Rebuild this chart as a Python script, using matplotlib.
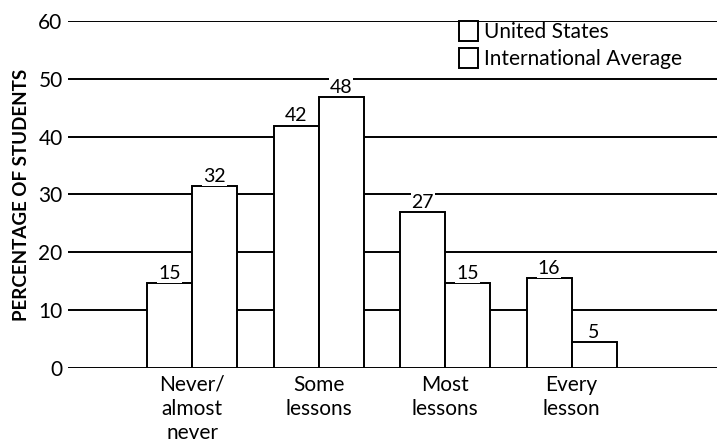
import matplotlib.pyplot as plt
import numpy as np

plt.rcParams['font.family'] = ['Lato', 'DejaVu Sans']

# categories and values
categories = ['Never/\nalmost\nnever', 'Some\nlessons', 'Most\nlessons', 'Every\nlesson']
us_heights = [14.6, 41.9, 27.0, 15.5]
intl_heights = [31.4, 46.9, 14.6, 4.5]
us_labels = ['15', '42', '27', '16']
intl_labels = ['32', '48', '15', '5']

fig = plt.figure(figsize=(7.17, 4.47), dpi=100)
ax = fig.add_axes([0.095, 0.177, 0.905, 0.776])

x = np.arange(len(categories))
w = 0.356

for y in range(0, 70, 10):
    ax.axhline(y, color='black', lw=1.4, zorder=0)

ax.bar(x - w / 2, us_heights, w, facecolor='white', edgecolor='black', lw=1.4,
       zorder=2, label='United States')
ax.bar(x + w / 2, intl_heights, w, facecolor='white', edgecolor='black', lw=1.4,
       zorder=2, label='International Average')

for xi, h, lab in zip(x - w / 2, us_heights, us_labels):
    ax.text(xi, h + 0.2, lab, ha='center', va='bottom', fontsize=14,
            bbox=dict(facecolor='white', edgecolor='none', pad=0.5), zorder=3)
for xi, h, lab in zip(x + w / 2, intl_heights, intl_labels):
    ax.text(xi, h + 0.2, lab, ha='center', va='bottom', fontsize=14,
            bbox=dict(facecolor='white', edgecolor='none', pad=0.5), zorder=3)

ax.set_xlim(-0.98, 4.15)
ax.set_ylim(0, 60)
ax.set_yticks(range(0, 70, 10))
ax.set_yticklabels([str(v) for v in range(0, 70, 10)], fontsize=15)
ax.set_xticks(x)
ax.set_xticklabels(categories, fontsize=15, linespacing=1.25)
ax.tick_params(length=0, axis='y', pad=4)
ax.tick_params(length=0, axis='x', pad=5)
for s in ax.spines.values():
    s.set_visible(False)

ax.set_ylabel('PERCENTAGE OF STUDENTS', fontsize=13.5, fontweight='bold', labelpad=6)

leg = ax.legend(loc='upper right', bbox_to_anchor=(0.965, 1.035), frameon=False,
                fontsize=15, handlelength=0.9, handleheight=1.1, handletextpad=0.3,
                labelspacing=0.25, borderpad=0.1)

fig.savefig('out.png', dpi=100)
